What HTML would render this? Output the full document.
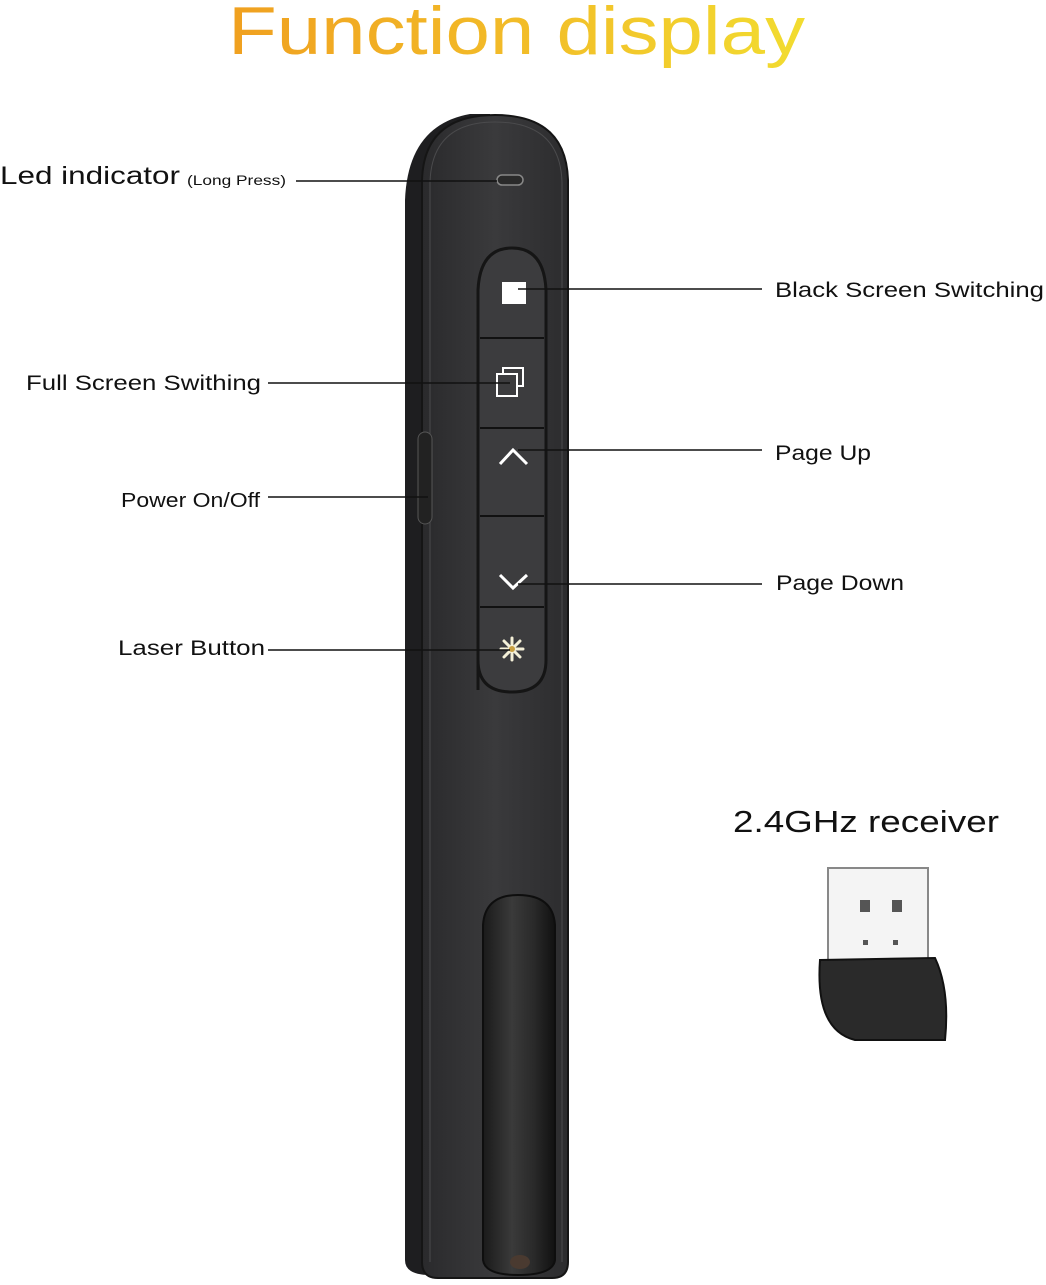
<!DOCTYPE html>
<html><head><meta charset="utf-8"><style>
html,body{margin:0;padding:0;background:#fff;}
body{width:1046px;height:1280px;overflow:hidden;position:relative;font-family:"Liberation Sans",sans-serif;}
</style></head><body>
<svg width="1046" height="1280" viewBox="0 0 1046 1280" xmlns="http://www.w3.org/2000/svg">
<defs>
<linearGradient id="tg" x1="0" x2="1" y1="0" y2="0">
<stop offset="0" stop-color="#f0a020"/><stop offset="0.5" stop-color="#f2bc28"/><stop offset="1" stop-color="#f2dc30"/>
</linearGradient>
<linearGradient id="body" x1="0" x2="1">
<stop offset="0" stop-color="#2a2a2c"/><stop offset="0.5" stop-color="#3a3a3c"/><stop offset="1" stop-color="#2c2c2e"/>
</linearGradient>
<linearGradient id="clip" x1="0" x2="1">
<stop offset="0" stop-color="#1a1a1a"/><stop offset="0.4" stop-color="#3a3a3a"/><stop offset="0.7" stop-color="#2a2a2a"/><stop offset="1" stop-color="#111"/>
</linearGradient>
</defs>
<text x="228" y="54" textLength="577" lengthAdjust="spacingAndGlyphs" font-family="Liberation Sans,sans-serif" font-size="68" fill="url(#tg)">Function display</text>

<path d="M405 1260 L405 200 Q408 125 470 114 L490 114 L490 1275 L430 1275 Q405 1275 405 1260Z" fill="#1e1e20"/>
<path d="M422 1262 L422 180 Q424 115 495 115 Q566 115 568 180 L568 1262 Q568 1278 552 1278 L438 1278 Q422 1278 422 1262Z" fill="url(#body)" stroke="#151515" stroke-width="2"/>
<path d="M430 1262 L430 182 Q432 122 495 122 Q560 122 562 182 L562 1262" fill="none" stroke="#4a4a4c" stroke-width="1"/>
<rect x="497" y="175" width="26" height="10" rx="5" fill="#2a2a2a" stroke="#888" stroke-width="1.5"/>
<path d="M478 690 L478 290 Q480 248 512 248 Q544 248 546 290 L546 660 Q546 692 512 692 Q478 692 478 660Z" fill="#3c3c3e" stroke="#151515" stroke-width="3"/>
<g stroke="#111" stroke-width="2">
<line x1="480" y1="338" x2="544" y2="338"/><line x1="480" y1="428" x2="544" y2="428"/>
<line x1="480" y1="516" x2="544" y2="516"/><line x1="480" y1="607" x2="544" y2="607"/>
</g>
<rect x="502" y="282" width="24" height="22" fill="#fff"/>
<rect x="503" y="368" width="20" height="18" fill="none" stroke="#fff" stroke-width="2"/>
<rect x="497" y="374" width="20" height="22" fill="#3c3c3e" stroke="#fff" stroke-width="2"/>
<polyline points="500,464 513,450 527,464" fill="none" stroke="#fff" stroke-width="3"/>
<polyline points="500,575 513,588 527,575" fill="none" stroke="#fff" stroke-width="3"/>
<g stroke="#f4f0d8" stroke-width="3" stroke-linecap="round">
<line x1="512" y1="638" x2="512" y2="660"/><line x1="501" y1="649" x2="523" y2="649"/>
<line x1="504" y1="641" x2="520" y2="657"/><line x1="520" y1="641" x2="504" y2="657"/>
</g>
<circle cx="512" cy="649" r="3" fill="#c9a040"/>
<rect x="418" y="432" width="14" height="92" rx="7" fill="#222" stroke="#555"/>
<path d="M483 1260 L483 925 Q485 895 518 895 Q553 895 555 925 L555 1260 Q553 1275 518 1275 Q485 1275 483 1260Z" fill="url(#clip)" stroke="#0e0e0e" stroke-width="2"/>
<ellipse cx="520" cy="1262" rx="10" ry="7" fill="#4a3a30"/>

<g stroke="#111" stroke-width="1.5">
<line x1="296" y1="181" x2="497" y2="181"/>
<line x1="518" y1="289" x2="762" y2="289"/>
<line x1="268" y1="383" x2="510" y2="383"/>
<line x1="518" y1="450" x2="762" y2="450"/>
<line x1="268" y1="497" x2="428" y2="497"/>
<line x1="518" y1="584" x2="762" y2="584"/>
<line x1="268" y1="650" x2="510" y2="650"/>
</g>
<g font-family="Liberation Sans,sans-serif" fill="#111">
<text x="0" y="184" font-size="25" textLength="180" lengthAdjust="spacingAndGlyphs">Led indicator</text>
<text x="187" y="185" font-size="14" textLength="99" lengthAdjust="spacingAndGlyphs">(Long Press)</text>
<text x="775" y="297" font-size="21" textLength="269" lengthAdjust="spacingAndGlyphs">Black Screen Switching</text>
<text x="26" y="390" font-size="21" textLength="235" lengthAdjust="spacingAndGlyphs">Full Screen Swithing</text>
<text x="775" y="460" font-size="21" textLength="96" lengthAdjust="spacingAndGlyphs">Page Up</text>
<text x="121" y="507" font-size="20" textLength="139" lengthAdjust="spacingAndGlyphs">Power On/Off</text>
<text x="776" y="590" font-size="21" textLength="128" lengthAdjust="spacingAndGlyphs">Page Down</text>
<text x="118" y="655" font-size="21" textLength="147" lengthAdjust="spacingAndGlyphs">Laser Button</text>
<text x="733" y="832" font-size="31" textLength="266" lengthAdjust="spacingAndGlyphs">2.4GHz receiver</text>
</g>
<rect x="828" y="868" width="100" height="92" fill="#f4f4f4" stroke="#888" stroke-width="2"/>
<rect x="860" y="900" width="10" height="12" fill="#555"/><rect x="892" y="900" width="10" height="12" fill="#555"/>
<rect x="863" y="940" width="5" height="5" fill="#555"/><rect x="893" y="940" width="5" height="5" fill="#555"/>
<path d="M820 960 L935 958 Q950 990 945 1040 L855 1040 Q815 1030 820 960Z" fill="#2a2a2a" stroke="#111" stroke-width="2"/>
</svg>
</body></html>
